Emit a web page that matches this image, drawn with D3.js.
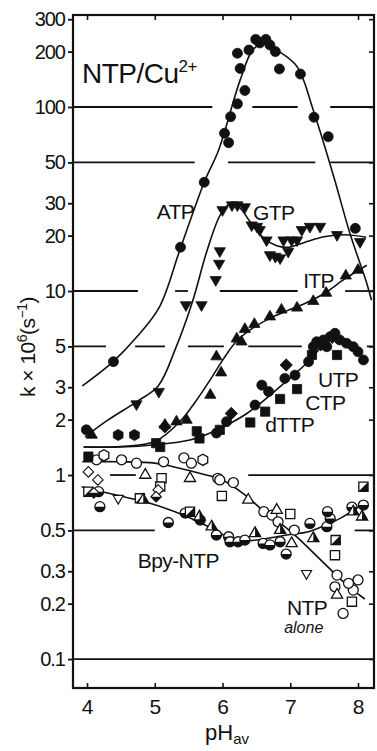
<!DOCTYPE html>
<html><head><meta charset="utf-8">
<script src="https://cdn.jsdelivr.net/npm/d3@7"></script>
<style>
html,body{margin:0;padding:0;background:#fff;}
svg{display:block;font-family:"Liberation Sans",Arial,Helvetica,sans-serif;}
</style></head><body>
<svg id="chart" width="377" height="751"></svg>
<script>
// ---------------- DATA ----------------
const xTicks = [4, 5, 6, 7, 8];
const yTicks = [0.1, 0.2, 0.3, 0.5, 1, 2, 3, 5, 10, 20, 30, 50, 100, 200, 300];
const yTickLabels = ["0.1","0.2","0.3","0.5","1","2","3","5","10","20","30","50","100","200","300"];

// horizontal reference lines (k level) and the pH stretches where they are drawn
const gridLevels = [100, 50, 10, 5, 1, 0.5, 0.1];
const gridRanges = [
  [[3.79,5.85],[6.44,7.11],[7.59,8.24]],
  [[3.79,5.59],[6.08,7.37],[7.59,8.24]],
  [[3.79,4.75],[5.30,5.49],[5.96,7.11],[7.81,8.24]],
  [[3.79,4.28],[4.71,5.15],[5.49,6.02],[6.38,7.17],[8.13,8.24]],
  [[4.34,4.72],[6.38,8.24]],
  [[3.79,5.00],[7.95,8.24]],
  [[3.79,8.24]]
];

// fitted curves [pH, k]
const atpCurve = [[3.93,3.05],[4.39,4.15],[4.73,5.6],[5.07,8.2],[5.37,16.7],[5.73,39],[5.94,58],[6.26,140],[6.45,205],[6.62,222],[6.8,204],[7.1,166],[7.34,96],[7.64,42],[7.88,20.6],[8.13,11],[8.2,8.9]];
const gtpCurve = [[3.97,1.61],[4.3,1.98],[4.73,2.5],[5.05,3.05],[5.3,4.8],[5.55,8.6],[5.77,16.5],[5.97,26],[6.12,30],[6.25,28.5],[6.4,24],[6.6,19.5],[6.8,17.6],[6.98,17.3],[7.2,18.3],[7.5,19.7],[7.8,20.2],[8.12,19.6]];
const itpCurve = [[3.95,1.42],[4.5,1.43],[5.0,1.52],[5.37,1.95],[5.6,2.5],[5.82,3.3],[6.0,4.2],[6.2,5.3],[6.45,6.3],[6.7,7.1],[6.95,7.8],[7.2,8.5],[7.5,9.7],[7.8,11.6],[8.13,13.8]];
const utpCurve = [[3.95,1.42],[4.5,1.42],[5.0,1.46],[5.52,1.55],[5.86,1.72],[6.36,2.16],[6.85,3.02],[7.24,4.05],[7.45,4.9],[7.64,5.6],[7.85,5.4],[8.05,4.6]];
const aloneCurve = [[3.93,1.18],[4.5,1.18],[5.0,1.16],[5.27,1.11],[5.76,1.0],[6.0,0.94],[6.35,0.77],[6.6,0.64],[6.85,0.55],[7.1,0.46],[7.35,0.375],[7.6,0.305],[7.85,0.25],[8.1,0.212]];
const bpyCurve = [[3.92,0.864],[4.43,0.778],[4.93,0.702],[5.42,0.606],[5.9,0.5],[6.15,0.445],[6.4,0.44],[6.7,0.455],[7.0,0.475],[7.25,0.49],[7.5,0.53],[7.75,0.585],[8.03,0.68]];

// measured points [pH, k]
const atpPoints = [[4.39,4.13],[5.38,17.3],[5.73,39],[6.03,72],[6.09,64],[6.12,88.6],[6.22,104],[6.33,123],[6.26,162],[6.22,196],[6.39,204],[6.49,233],[6.55,223],[6.64,233],[6.70,217],[6.78,200],[6.84,161],[7.15,151],[7.35,88],[7.56,69],[7.96,21.9]];
const gtpPoints = [[4.73,2.43],[5.06,2.84],[5.46,8.4],[5.69,8.4],[5.90,11.5],[5.95,14.1],[5.96,16.5],[6.00,27.6],[6.14,29.3],[6.22,29.3],[6.33,28.6],[6.43,22.8],[6.51,22.4],[6.55,21.5],[6.65,18.9],[6.70,15.7],[6.78,15.4],[6.85,15.1],[6.90,18.9],[6.97,16.4],[7.02,18.9],[7.10,18.9],[7.17,21.5],[7.29,22.4],[7.44,22.4],[7.69,20.2],[8.03,18.5]];
const itpPoints = [[4.07,1.65],[5.15,1.87],[5.32,1.95],[5.47,1.99],[5.82,2.72],[5.98,3.6],[5.91,4.4],[6.21,5.5],[6.28,5.3],[6.33,6.2],[6.47,6.6],[6.70,7.25],[6.87,7.9],[7.10,8.1],[7.34,8.8],[7.53,9.75],[7.82,12.1],[8.00,13.0]];
const utpSquares = [[4.02,1.26],[5.02,1.49],[5.08,1.42],[5.62,1.73],[5.66,1.58],[5.96,1.76],[6.41,1.93],[6.63,2.21],[6.85,2.59],[7.10,2.93],[7.32,4.49],[7.69,4.49]];
const utpDiamonds = [[5.15,1.83],[6.13,2.16],[6.94,3.96],[7.45,5.1],[7.62,5.6]];
const utpCircles = [[3.99,1.76],[5.91,1.69],[6.06,1.95],[6.48,2.40],[6.58,3.08],[6.68,2.84],[6.92,3.35],[7.07,3.49],[7.27,4.13],[7.34,4.98],[7.39,5.3],[7.49,5.42],[7.54,4.98],[7.59,5.65],[7.66,5.89],[7.73,5.42],[7.83,5.2],[7.93,4.98],[8.00,4.68],[8.08,4.22]];
const utpHexagons = [[4.46,1.65],[4.70,1.65]];

const aloneCircles = [[4.14,1.21],[4.51,1.21],[4.73,1.16],[5.13,1.18],[5.43,1.24],[5.54,1.16],[5.93,0.96],[5.96,0.94],[6.16,0.91],[6.61,0.632],[6.73,0.606],[6.82,0.557],[7.06,0.502],[7.69,0.286],[7.66,0.247],[7.78,0.177],[7.93,0.237],[8.00,0.269],[7.86,0.258]];
const aloneHexagons = [[4.25,1.28],[5.71,1.21]];
const aloneTriangles = [[4.86,1.0],[5.52,0.96],[6.38,0.732],[6.80,0.645],[7.02,0.425],[7.69,0.223]];
const aloneSquares = [[5.10,0.96],[5.08,0.865],[5.99,0.77],[7.00,0.614],[7.66,0.367],[7.91,0.205]];
const aloneDiamonds = [[4.02,1.04],[4.16,0.94],[5.05,0.83]];
const aloneDownTriangles = [[7.24,0.292],[4.46,0.747]];

const bpyCircles = [[4.19,0.673],[4.17,0.812],[5.20,0.552],[5.45,0.621],[5.67,0.569],[5.91,0.472],[6.09,0.462],[6.11,0.434],[6.23,0.434],[6.33,0.443],[6.60,0.425],[6.70,0.417],[6.85,0.434],[6.94,0.372],[7.29,0.546],[7.54,0.524],[7.59,0.581],[7.55,0.632],[7.91,0.67],[8.08,0.687]];
const bpySquares = [[4.02,0.812],[4.78,0.747],[5.52,0.632],[8.08,0.864],[7.67,0.443]];
const bpyTriangles = [[4.83,0.732],[5.66,0.593],[5.84,0.524],[6.48,0.482],[6.85,0.502],[7.34,0.453],[7.93,0.632],[8.06,0.593]];
const bpyDiamonds = [[5.02,0.762],[4.1,0.8]];

// text labels [text, pH, k]
const seriesLabels = [["ATP",5.03,24.6],["GTP",6.45,24.3],["ITP",7.19,10.4],["UTP",7.41,3.01],["CTP",7.22,2.26],["dTTP",6.63,1.71],["Bpy-NTP",4.75,0.312],["NTP",6.95,0.1734]];

// ---------------- CHART ----------------
const svg = d3.select("#chart");
const x = d3.scaleLinear().domain([3.793, 8.236]).range([73, 374]);
const y = d3.scaleLog().domain([0.0696, 316.2]).range([688, 15]);
const ink = "#111";

// grid lines
const grid = svg.append("g").attr("stroke", ink).attr("stroke-width", 1.8);
gridLevels.forEach((lv, i) => {
  gridRanges[i].forEach(r => {
    grid.append("line").attr("x1", x(r[0])).attr("x2", x(r[1])).attr("y1", y(lv)).attr("y2", y(lv));
  });
});

// curves
const line = d3.line().x(d => x(d[0])).y(d => y(d[1])).curve(d3.curveCatmullRom.alpha(0.5));
[atpCurve, gtpCurve, itpCurve, utpCurve, aloneCurve, bpyCurve].forEach(c => {
  svg.append("path").attr("d", line(c)).attr("fill", "none").attr("stroke", ink).attr("stroke-width", 1.6);
});

// symbols
const R = 5, TS = 5.6, TH = TS * Math.sqrt(3);
const shapes = {
  circle: `M${-R},0A${R},${R} 0 1,1 ${R},0A${R},${R} 0 1,1 ${-R},0Z`,
  tri: `M0,${-TH*2/3}L${TS},${TH/3}L${-TS},${TH/3}Z`,
  dtri: `M0,${TH*2/3}L${TS},${-TH/3}L${-TS},${-TH/3}Z`,
  sq: `M-4.6,-4.6H4.6V4.6H-4.6Z`,
  dia: `M0,-6.2L6.2,0L0,6.2L-6.2,0Z`,
  hex: (() => { const p = d3.range(6).map(i => { const a = Math.PI/6 + i*Math.PI/3; return [5.6*Math.cos(a), 5.6*Math.sin(a)]; }); return "M" + p.map(q => q.join(",")).join("L") + "Z"; })()
};
const halves = {
  circle: `M${-R},0A${R},${R} 0 0,0 ${R},0Z`,
  sq: `M4.6,-4.6L4.6,4.6L-4.6,4.6Z`,
  tri: `M0,${-TH*2/3}L${TS},${TH/3}L0,${TH/3}Z`,
  dia: `M-6.2,0L6.2,0L0,6.2Z`
};
function plot(points, shape, style, scale) {
  const s = scale || 1;
  const g = svg.append("g");
  points.forEach(p => {
    const m = g.append("g").attr("transform", `translate(${x(p[0])},${y(p[1])}) scale(${s})`);
    if (style === "filled") {
      m.append("path").attr("d", shapes[shape]).attr("fill", ink).attr("stroke", ink).attr("stroke-width", 0.8);
    } else if (style === "open") {
      m.append("path").attr("d", shapes[shape]).attr("fill", "#fff").attr("stroke", ink).attr("stroke-width", 1.3);
    } else {
      m.append("path").attr("d", shapes[shape]).attr("fill", "#fff").attr("stroke", ink).attr("stroke-width", 1.3);
      m.append("path").attr("d", halves[shape]).attr("fill", ink);
    }
  });
}

plot(aloneCircles, "circle", "open");
plot(aloneHexagons, "hex", "open");
plot(aloneTriangles, "tri", "open");
plot(aloneSquares, "sq", "open");
plot(aloneDiamonds, "dia", "open", 0.85);
plot(aloneDownTriangles, "dtri", "open", 0.9);
plot(bpyCircles, "circle", "half");
plot(bpySquares, "sq", "half");
plot(bpyTriangles, "tri", "half");
plot(bpyDiamonds, "dia", "half", 0.85);

plot(utpSquares, "sq", "filled");
plot(utpDiamonds, "dia", "filled");
plot(utpCircles, "circle", "filled");
plot(utpHexagons, "hex", "filled");
plot(itpPoints, "tri", "filled");
plot(gtpPoints, "dtri", "filled");
plot(atpPoints, "circle", "filled");

// series labels
const lab = svg.append("g").attr("fill", ink).attr("font-size", 21).attr("letter-spacing", -0.6);
seriesLabels.forEach(l => {
  lab.append("text").attr("x", x(l[1])).attr("y", y(l[2])).text(l[0]);
});
lab.append("text").attr("x", x(6.91)).attr("y", y(0.1384)).attr("font-size", 16).attr("font-style", "italic").attr("letter-spacing", 0).text("alone");

// title
const title = svg.append("text").attr("x", x(3.926)).attr("y", y(135)).attr("font-size", 28).attr("fill", ink).attr("letter-spacing", -0.5);
title.append("tspan").text("NTP/Cu");
title.append("tspan").attr("font-size", 17).attr("dy", -11).text("2+");

// axes
const tickFont = g => g.selectAll("text").attr("font-size", 20).attr("fill", ink).attr("letter-spacing", -1).attr("font-family", "Liberation Sans, Arial, sans-serif");
const yAxis = svg.append("g").attr("transform", "translate(73,0)")
  .call(d3.axisLeft(y).tickValues(yTicks).tickFormat((d, i) => yTickLabels[i]).tickSize(5).tickPadding(3));
yAxis.select(".domain").remove();
yAxis.selectAll("line").attr("stroke", ink).attr("stroke-width", 1.8);
tickFont(yAxis);

const yAxisR = svg.append("g").attr("transform", "translate(374,0)")
  .call(d3.axisLeft(y).tickValues(yTicks).tickFormat("").tickSize(5));
yAxisR.select(".domain").remove();
yAxisR.selectAll("line").attr("stroke", ink).attr("stroke-width", 1.6);

const xAxis = svg.append("g").attr("transform", "translate(0,688)")
  .call(d3.axisBottom(x).tickValues(xTicks).tickFormat(d3.format("d")).tickSizeInner(-5).tickSizeOuter(0).tickPadding(11));
xAxis.select(".domain").remove();
xAxis.selectAll("line").attr("stroke", ink).attr("stroke-width", 1.6);
xAxis.selectAll("text").attr("font-size", 21).attr("fill", ink).attr("font-family", "Liberation Sans, Arial, sans-serif");

const xAxisT = svg.append("g").attr("transform", "translate(0,15)")
  .call(d3.axisTop(x).tickValues(xTicks).tickFormat("").tickSizeInner(-5).tickSizeOuter(0));
xAxisT.select(".domain").remove();
xAxisT.selectAll("line").attr("stroke", ink).attr("stroke-width", 1.6);

// frame
svg.append("rect").attr("x", 73).attr("y", 15).attr("width", 301).attr("height", 673)
  .attr("fill", "none").attr("stroke", ink).attr("stroke-width", 2.2);

// axis titles
const yl = svg.append("text").attr("transform", "translate(35,347) rotate(-90)").attr("text-anchor", "middle")
  .attr("font-size", 21).attr("fill", ink).attr("letter-spacing", -0.5);
yl.append("tspan").text("k × 10");
yl.append("tspan").attr("font-size", 14).attr("dy", -8).text("6");
yl.append("tspan").attr("dy", 8).text("(s");
yl.append("tspan").attr("font-size", 14).attr("dy", -8).text("−1");
yl.append("tspan").attr("dy", 8).text(")");

const xl = svg.append("text").attr("x", 205).attr("y", 740).attr("font-size", 22).attr("fill", ink);
xl.append("tspan").text("pH");
xl.append("tspan").attr("font-size", 15).attr("dy", 4).text("av");
</script>
</body></html>
